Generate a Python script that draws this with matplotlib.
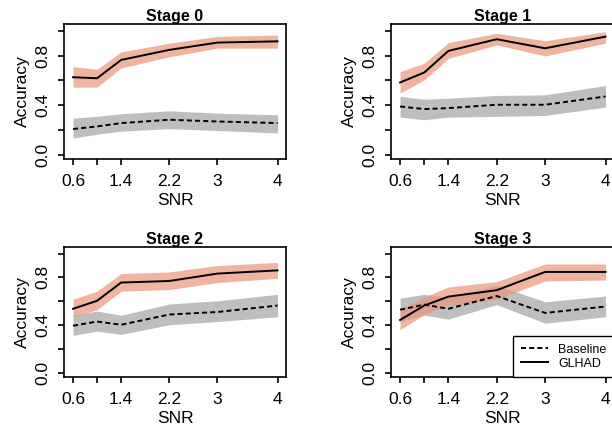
import numpy as np
import matplotlib
matplotlib.use("Agg")
import matplotlib.pyplot as plt

plt.rcParams["font.family"] = ["Liberation Sans", "DejaVu Sans"]

# SNR values on the x axis
snr = [0.6, 1.0, 1.4, 2.2, 3.0, 4.0]
snr_ticks = [0.6, 1.0, 1.4, 2.2, 3.0, 4.0]
snr_labels = ["0.6", "", "1.4", "2.2", "3", "4"]
acc_ticks = [0.0, 0.2, 0.4, 0.6, 0.8, 1.0]
acc_labels = ["0.0", "", "0.4", "", "0.8", ""]

stages = ["Stage 0", "Stage 1", "Stage 2", "Stage 3"]

# GLHAD mean / lower / upper
glhad_mean = [
    [0.625, 0.617, 0.765, 0.846, 0.905, 0.915],
    [0.583, 0.663, 0.838, 0.932, 0.859, 0.953],
    [0.537, 0.604, 0.757, 0.770, 0.832, 0.859],
    [0.443, 0.564, 0.639, 0.693, 0.846, 0.846],
]
glhad_lo = [
    [0.545, 0.545, 0.700, 0.790, 0.860, 0.860],
    [0.497, 0.604, 0.778, 0.886, 0.797, 0.900],
    [0.470, 0.529, 0.685, 0.698, 0.757, 0.792],
    [0.362, 0.489, 0.564, 0.617, 0.770, 0.778],
]
glhad_hi = [
    [0.710, 0.690, 0.830, 0.900, 0.955, 0.966],
    [0.671, 0.738, 0.905, 0.980, 0.920, 0.993],
    [0.617, 0.685, 0.832, 0.846, 0.900, 0.926],
    [0.529, 0.636, 0.720, 0.765, 0.913, 0.913],
]

# Baseline mean / lower / upper
base_mean = [
    [0.207, 0.228, 0.255, 0.282, 0.268, 0.255],
    [0.389, 0.368, 0.376, 0.403, 0.403, 0.470],
    [0.395, 0.430, 0.403, 0.489, 0.510, 0.564],
    [0.529, 0.572, 0.537, 0.644, 0.502, 0.556],
]
base_lo = [
    [0.134, 0.165, 0.190, 0.210, 0.195, 0.175],
    [0.303, 0.282, 0.303, 0.309, 0.317, 0.384],
    [0.314, 0.349, 0.322, 0.403, 0.430, 0.470],
    [0.430, 0.483, 0.451, 0.572, 0.416, 0.470],
]
base_hi = [
    [0.295, 0.310, 0.330, 0.354, 0.335, 0.322],
    [0.470, 0.448, 0.456, 0.478, 0.483, 0.558],
    [0.483, 0.518, 0.483, 0.577, 0.604, 0.658],
    [0.626, 0.658, 0.631, 0.733, 0.596, 0.644],
]

W, H = 612, 436
fig = plt.figure(figsize=(W / 100, H / 100), dpi=100)

# axes boxes in pixels: left, top, right, bottom
boxes = [
    (64, 24, 286, 159),
    (391, 24, 614, 159),
    (64, 247, 286, 377),
    (391, 247, 614, 377),
]

for k, (l, t, r, b) in enumerate(boxes):
    ax = fig.add_axes([l / W, 1 - b / H, (r - l) / W, (b - t) / H])
    ax.fill_between(snr, base_lo[k], base_hi[k], color="#7f7f7f", alpha=0.5, lw=0)
    ax.fill_between(snr, glhad_lo[k], glhad_hi[k], color="#E9967A", alpha=0.7, lw=0)
    ax.plot(snr, base_mean[k], color="black", lw=1.4, linestyle=(0, (2.6, 1.6)), label="Baseline")
    ax.plot(snr, glhad_mean[k], color="black", lw=1.4, label="GLHAD")

    ax.set_xlim(0.45, 4.14)
    ax.set_ylim(-0.035, 1.055)
    ax.set_xticks(snr_ticks)
    ax.set_xticklabels(snr_labels, fontsize=12.5)
    ax.set_yticks(acc_ticks)
    ax.set_yticklabels(acc_labels, fontsize=12.5, rotation=90, va="center")
    ax.tick_params(direction="out", length=4.5, width=1.2)
    ax.tick_params(axis="x", pad=6)
    ax.tick_params(axis="y", pad=5)
    for s in ax.spines.values():
        s.set_linewidth(1.2)
    ax.set_title(stages[k], fontsize=11.5, fontweight="bold", pad=1.5)
    ax.set_xlabel("SNR", fontsize=12.5, labelpad=3)
    ax.set_ylabel("Accuracy", fontsize=12.5, labelpad=4)

    if k == 3:
        leg = ax.legend(loc="lower right", borderaxespad=0, fancybox=False,
                        edgecolor="black", fontsize=9, handlelength=2.2,
                        framealpha=1, borderpad=0.6, labelspacing=0.15)
        leg.get_frame().set_linewidth(1.0)

fig.savefig("out.png", dpi=100)
